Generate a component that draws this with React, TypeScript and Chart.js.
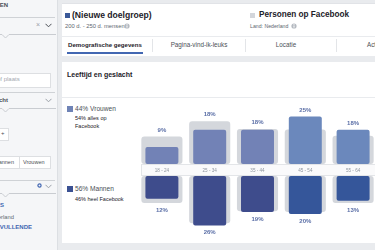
import React, { useEffect, useRef } from "react";
import { Chart, registerables } from "chart.js";

Chart.register(...registerables);

// ---- data ----
const ageGroups = ["18 - 24", "25 - 34", "35 - 44", "45 - 54", "55 - 64"];
const womenAudience = [9, 18, 18, 25, 18];
const womenFacebook = [14.5, 22.5, 18.4, 18.2, 14.9];
const menAudience = [12, 26, 19, 20, 13];
const menFacebook = [14.2, 24.8, 18.5, 19, 14.2];

// ---- styles ----
const GAP = 3.16; // half height of the age-label band, in value units
const womenColors = ["#7282b6", "#7282b6", "#7282b6", "#6b88bc", "#6b88bc"];
const menColors = ["#3e4c8c", "#3e4c8c", "#3e4c8c", "#35569a", "#35569a"];
const grayColor = "#d4d7dc";
const FONT = '"Liberation Sans", Arial, sans-serif';

const labelPlugin = {
  id: "fbLabels",
  beforeDatasetsDraw(chart: any) {
    const { ctx } = chart;
    const y = chart.scales.y;
    const x = chart.scales.x;
    const first = chart.getDatasetMeta(2).data[0] as any;
    const left = first.x - first.width / 2;
    const top = Math.round(y.getPixelForValue(GAP));
    const bottom = Math.round(y.getPixelForValue(-GAP));
    ctx.save();
    ctx.fillStyle = "#fafafb";
    ctx.fillRect(left, top, chart.width - left, bottom - top);
    ctx.strokeStyle = "#e3e5e8";
    ctx.lineWidth = 1;
    ctx.beginPath();
    ctx.moveTo(left, top + 0.5);
    ctx.lineTo(chart.width, top + 0.5);
    ctx.moveTo(left, bottom - 0.5);
    ctx.lineTo(chart.width, bottom - 0.5);
    ctx.moveTo(Math.round(left) + 0.5, top);
    ctx.lineTo(Math.round(left) + 0.5, bottom);
    ctx.stroke();
    ctx.font = `4.6px ${FONT}`;
    ctx.fillStyle = "#8d949e";
    ctx.textAlign = "center";
    ctx.textBaseline = "middle";
    ageGroups.forEach((g, i) => {
      ctx.fillText(g, x.getPixelForValue(i), (top + bottom) / 2 + 0.5);
    });
    ctx.restore();
  },
  afterDatasetsDraw(chart: any) {
    const { ctx } = chart;
    const y = chart.scales.y;
    const x = chart.scales.x;
    ctx.save();
    ctx.font = `bold 6px ${FONT}`;
    ctx.fillStyle = "#5a6ea6";
    ctx.textAlign = "center";
    ageGroups.forEach((_, i) => {
      const px = x.getPixelForValue(i);
      const wTop = y.getPixelForValue(GAP + Math.max(womenAudience[i], womenFacebook[i]));
      ctx.textBaseline = "bottom";
      ctx.fillText(`${womenAudience[i]}%`, px, wTop - 3.5);
      const mBot = y.getPixelForValue(-GAP - Math.max(menAudience[i], menFacebook[i]));
      ctx.textBaseline = "top";
      ctx.fillText(`${menAudience[i]}%`, px, mBot + 4);
    });
    ctx.restore();
  },
};

function AgeGenderChart() {
  const ref = useRef<HTMLCanvasElement | null>(null);
  useEffect(() => {
    if (!ref.current) return;
    const chart = new Chart(ref.current, {
      type: "bar",
      data: {
        labels: ageGroups,
        datasets: [
          {
            label: "Vrouwen",
            data: womenAudience.map((v) => [GAP, GAP + v]) as any,
            backgroundColor: womenColors,
            barPercentage: 0.69,
            categoryPercentage: 1,
            grouped: false,
            borderRadius: 2,
            borderSkipped: false,
            order: 1,
          },
          {
            label: "Mannen",
            data: menAudience.map((v) => [-GAP, -GAP - v]) as any,
            backgroundColor: menColors,
            barPercentage: 0.69,
            categoryPercentage: 1,
            grouped: false,
            borderRadius: 2,
            borderSkipped: false,
            order: 1,
          },
          {
            label: "Vrouwen Facebook",
            data: womenFacebook.map((v) => [GAP, GAP + v]) as any,
            backgroundColor: grayColor,
            barPercentage: 0.86,
            categoryPercentage: 1,
            grouped: false,
            borderRadius: 3,
            borderSkipped: false,
            order: 2,
          },
          {
            label: "Mannen Facebook",
            data: menFacebook.map((v) => [-GAP, -GAP - v]) as any,
            backgroundColor: grayColor,
            barPercentage: 0.86,
            categoryPercentage: 1,
            grouped: false,
            borderRadius: 3,
            borderSkipped: false,
            order: 2,
          },
        ],
      },
      options: {
        animation: false,
        responsive: true,
        maintainAspectRatio: false,
        layout: { padding: 0 },
        plugins: {
          legend: { display: false },
          tooltip: { enabled: false },
        },
        scales: {
          x: { display: false, offset: true },
          y: { display: false, min: -36.84, max: 42.1 },
        },
      },
      plugins: [labelPlugin],
    });
    return () => chart.destroy();
  }, []);
  return (
    <div style={{ position: "absolute", left: 138, top: 90, width: 239, height: 150 }}>
      <canvas ref={ref} />
    </div>
  );
}

const abs = (o: React.CSSProperties): React.CSSProperties => ({
  position: "absolute",
  whiteSpace: "nowrap",
  ...o,
});

function Chevron({ x, y, color = "#606770" }: { x: number; y: number; color?: string }) {
  return (
    <svg style={abs({ left: x, top: y })} width={7} height={5}>
      <polyline points="0.5,0.8 3.5,3.8 6.5,0.8" fill="none" stroke={color} strokeWidth={1} />
    </svg>
  );
}

function NotchLine({ y }: { y: number }) {
  return (
    <svg style={abs({ left: 0, top: y })} width={56} height={6}>
      <polyline points="0,0.5 2,0.5 5.5,4 9,0.5 56,0.5" fill="none" stroke="#c9ccd1" strokeWidth={1} />
    </svg>
  );
}

function Line({ y, x = 0, w = 55, c = "#cfd2d6" }: { y: number; x?: number; w?: number; c?: string }) {
  return <div style={abs({ left: x, top: y, width: w, height: 1, background: c })} />;
}

function Info({ x, y }: { x: number; y: number }) {
  return (
    <svg style={abs({ left: x, top: y })} width={6} height={6}>
      <circle cx={3} cy={3} r={2.6} fill="#b4b9c0" />
      <rect x={2.5} y={2.4} width={1} height={2.2} fill="#fff" />
      <rect x={2.5} y={1.2} width={1} height={0.8} fill="#fff" />
    </svg>
  );
}

export default function App() {
  const t = (o: React.CSSProperties, s: string) => <div style={abs(o)}>{s}</div>;
  return (
    <div
      style={{
        position: "fixed",
        left: 0,
        top: 0,
        width: 375,
        height: 250,
        overflow: "hidden",
        background: "#e9ebee",
        fontFamily: FONT,
      }}
    >
      {/* Sidebar */}
      <div style={abs({ left: 0, top: 0, width: 57, height: 250, background: "#f5f6f8", borderRight: "1px solid #dcdfe3" })}>
        <div style={abs({ right: 49, top: 2, fontSize: 6, fontWeight: "bold", color: "#4b4f56" })}>DOELGROEPEN</div>
        <Line y={17} />
        <div style={abs({ left: 36, top: 21, fontSize: 7, color: "#9ba0a8" })}>×</div>
        <Chevron x={45} y={23} color="#4b4f56" />
        <NotchLine y={34} />
        <div style={abs({ left: -3, top: 73, width: 52, height: 13, background: "#fff", border: "1px solid #dddfe2" })} />
        <div style={abs({ left: -3, top: 76, fontSize: 6, color: "#a3a8b0" })}>of plaats</div>
        <Line y={92} />
        <div style={abs({ right: 49, top: 97, fontSize: 6, fontWeight: "bold", color: "#4b4f56" })}>Geslacht</div>
        <Chevron x={45} y={98} color="#9ba0a8" />
        <NotchLine y={108} />
        <div style={abs({ left: -2, top: 128, width: 9, height: 11, background: "#fff", border: "1px solid #dddfe2" })} />
        <div style={abs({ left: 1, top: 130, fontSize: 6, color: "#4b4f56" })}>+</div>
        <div style={abs({ left: -10, top: 156, width: 28, height: 11, background: "#fff", border: "1px solid #dddfe2" })} />
        <div style={abs({ left: 19, top: 156, width: 30, height: 11, background: "#fff", border: "1px solid #dddfe2" })} />
        <div style={abs({ right: 43, top: 159, fontSize: 5.5, color: "#4b4f56" })}>Mannen</div>
        <div style={abs({ left: 23, top: 159, fontSize: 5.5, color: "#4b4f56" })}>Vrouwen</div>
        <Line y={180} />
        <svg style={abs({ left: 37, top: 183 })} width={5} height={5}>
          <circle cx={2.5} cy={2.5} r={1.6} fill="none" stroke="#4267b2" strokeWidth={1.2} />
        </svg>
        <Chevron x={45} y={184} color="#9ba0a8" />
        <NotchLine y={193} />
        <div style={abs({ right: 53, top: 202, fontSize: 6, fontWeight: "bold", color: "#4267b2" })}>FILTERS</div>
        <div style={abs({ right: 43, top: 214, fontSize: 5.8, color: "#606770" })}>Nederland</div>
        <div style={abs({ right: 25, top: 224, fontSize: 6, fontWeight: "bold", color: "#4267b2" })}>AANVULLENDE</div>
      </div>

      {/* Header card */}
      <div style={abs({ left: 62, top: 3, width: 330, height: 52, background: "#fff", borderTop: "1px solid #e1e3e7" })} />
      <div style={abs({ left: 65, top: 13, width: 5, height: 5, background: "#3b5998" })} />
      {t({ left: 72, top: 10, fontSize: 8.6, fontWeight: "bold", color: "#1d2129" }, "(Nieuwe doelgroep)")}
      {t({ left: 65, top: 23, fontSize: 5.8, color: "#606770" }, "200 d. - 250 d. mensen")}
      <Info x={124} y={23} />
      <div style={abs({ left: 250, top: 13, width: 5, height: 5, background: "#d3d6db" })} />
      {t({ left: 259, top: 10, fontSize: 8.2, fontWeight: "bold", color: "#1d2129" }, "Personen op Facebook")}
      {t({ left: 250, top: 23, fontSize: 5.2, color: "#606770" }, "Land: Nederland")}
      <Info x={291} y={23} />
      <Line y={36} x={62} w={320} c="#e9ebee" />
      <div style={abs({ left: 152, top: 39, width: 1, height: 13, background: "#e3e5e8" })} />
      <div style={abs({ left: 245, top: 39, width: 1, height: 13, background: "#e3e5e8" })} />
      <div style={abs({ left: 336, top: 39, width: 1, height: 13, background: "#e3e5e8" })} />
      {t({ left: 68, top: 41, fontSize: 6.1, fontWeight: "bold", color: "#1d2129" }, "Demografische gegevens")}
      <div style={abs({ left: 67, top: 52, width: 76, height: 2, background: "#4267b2" })} />
      {t({ left: 153, width: 92, top: 41, fontSize: 6.3, color: "#4b4f56", textAlign: "center" }, "Pagina-vind-ik-leuks")}
      {t({ left: 246, width: 80, top: 41, fontSize: 6.3, color: "#4b4f56", textAlign: "center" }, "Locatie")}
      {t({ left: 367, top: 41, fontSize: 6.3, color: "#4b4f56" }, "Activiteit")}

      {/* Chart card */}
      <div style={abs({ left: 62, top: 62, width: 330, height: 181, background: "#fff" })} />
      {t({ left: 67, top: 71, fontSize: 7, fontWeight: "bold", color: "#1d2129" }, "Leeftijd en geslacht")}
      <Line y={97} x={62} w={320} c="#e9ebee" />

      <div style={abs({ left: 67, top: 106, width: 6, height: 6, background: "#6f83b6" })} />
      {t({ left: 75, top: 104.5, fontSize: 6.6, color: "#4b4f56" }, "44% Vrouwen")}
      {t({ left: 75, top: 115, fontSize: 5.5, color: "#1d2129" }, "54% alles op")}
      {t({ left: 75, top: 123, fontSize: 5.5, color: "#1d2129" }, "Facebook")}

      <div style={abs({ left: 67, top: 186, width: 6, height: 6, background: "#3b5193" })} />
      {t({ left: 75, top: 185, fontSize: 6.6, color: "#4b4f56" }, "56% Mannen")}
      {t({ left: 75, top: 196, fontSize: 5.5, color: "#1d2129" }, "46% heel Facebook")}

      <AgeGenderChart />
    </div>
  );
}
